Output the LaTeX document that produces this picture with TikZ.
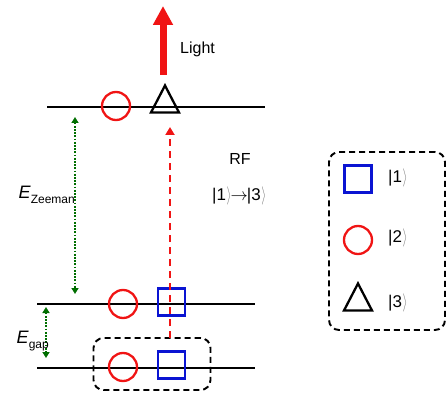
\documentclass[tikz,border=0pt]{standalone}
\usepackage{fontspec}
\setmainfont{Liberation Sans}
\usetikzlibrary{arrows.meta,shapes.geometric}
\definecolor{dgreen}{RGB}{0,110,0}
\definecolor{myred}{RGB}{240,20,20}
\definecolor{myblue}{RGB}{10,20,210}
\newcommand{\kt}[1]{|#1\kern0.5pt{\color{black!50}\raisebox{0.05ex}{\scalebox{0.75}[1.05]{$\rangle$}}}}
\begin{document}
\begin{tikzpicture}[x=1pt,y=-1pt,
  level/.style={line width=1.9pt,black},
  circsym/.style={circle,draw=myred,line width=2.3pt,minimum size=28pt,inner sep=0pt},
  sqsym/.style={rectangle,draw=myblue,line width=2.3pt,minimum size=27pt,inner sep=0pt},
  trisym/.style={isosceles triangle,isosceles triangle stretches,shape border rotate=90,draw=black,line width=2.3pt,minimum height=27pt,minimum width=28pt,inner sep=0pt},
  gap/.style={dgreen,line width=2.2pt,dash pattern=on 1.8pt off 1.4pt,{Triangle[length=6pt,width=7pt]}-{Triangle[length=6pt,width=7pt]}},
  rfarrow/.style={myred,line width=2.4pt,dash pattern=on 7pt off 5pt,-{Triangle[length=8pt,width=9pt]}},
  lightarrow/.style={myred,line width=7pt,-{Triangle[length=19pt,width=19pt]}},
  dbox/.style={draw,line width=1.9pt,dash pattern=on 6pt off 4pt,rounded corners=10pt},
  lbl/.style={font=\fontsize{16}{18}\selectfont,inner sep=0pt},
  ket/.style={font=\fontsize{17}{19}\selectfont,inner sep=0pt}]
\useasboundingbox (0,0) rectangle (448,396);
% level lines
\coordinate (t1) at (47,107); \coordinate (t2) at (265,107);
\coordinate (m1) at (37,304); \coordinate (m2) at (255,304);
\coordinate (b1) at (37,368); \coordinate (b2) at (255,368);
\draw[level] (t1) -- (t2);
\draw[level] (m1) -- (m2);
\draw[level] (b1) -- (b2);
% dashed box around ground state
\node[dbox,minimum width=117pt,minimum height=52pt] (gbox) at (152,364) {};
% symbols
\node[circsym] (tc) at (116,106) {};
\node[trisym] (tt) at (165,104) {};
\node[circsym] (mc) at (123,304) {};
\node[sqsym] (ms) at (171.5,302) {};
\node[circsym] (bc) at (123,367) {};
\node[sqsym] (bs) at (171.5,365) {};
% RF transition
\coordinate (rfs) at (170,338);
\coordinate (rfe) at (170,127);
\draw[rfarrow] (rfs) -- (rfe);
% light
\coordinate (ls) at (163,75);
\coordinate (le) at (163,6);
\draw[lightarrow] (ls) -- (le);
\node[lbl,anchor=west] (light) at (180,49) {Light};
% energy gaps
\coordinate (z1) at (75,117); \coordinate (z2) at (75,294);
\draw[gap] (z1) -- (z2);
\node[inner sep=0pt,anchor=east,font=\fontsize{18}{20}\selectfont] (ez) at (75,195) {\textit{E}\raisebox{-0.55ex}{\fontsize{12}{13}\selectfont Zeeman}};
\coordinate (g1) at (46,307); \coordinate (g2) at (46,358);
\draw[gap] (g1) -- (g2);
\node[inner sep=0pt,anchor=east,font=\fontsize{18}{20}\selectfont] (eg) at (49,341) {\textit{E}\raisebox{-0.55ex}{\fontsize{12}{13}\selectfont gap}};
% RF label
\node[lbl] (rf) at (240,159) {RF};
\node[ket,anchor=west] (tr) at (212,196) {\kt{1}\kern-1pt$\rightarrow$\kern-1pt\kt{3}};
% legend
\node[dbox,minimum width=116pt,minimum height=178pt] (leg) at (387,241) {};
\node[sqsym] (ls1) at (358,179) {};
\node[circsym] (lc2) at (358,240) {};
\node[trisym] (lt3) at (358,302) {};
\node[ket,anchor=west] (k1) at (388,178) {\kt{1}};
\node[ket,anchor=west] (k2) at (388,238) {\kt{2}};
\node[ket,anchor=west] (k3) at (388,303) {\kt{3}};
\end{tikzpicture}
\end{document}
